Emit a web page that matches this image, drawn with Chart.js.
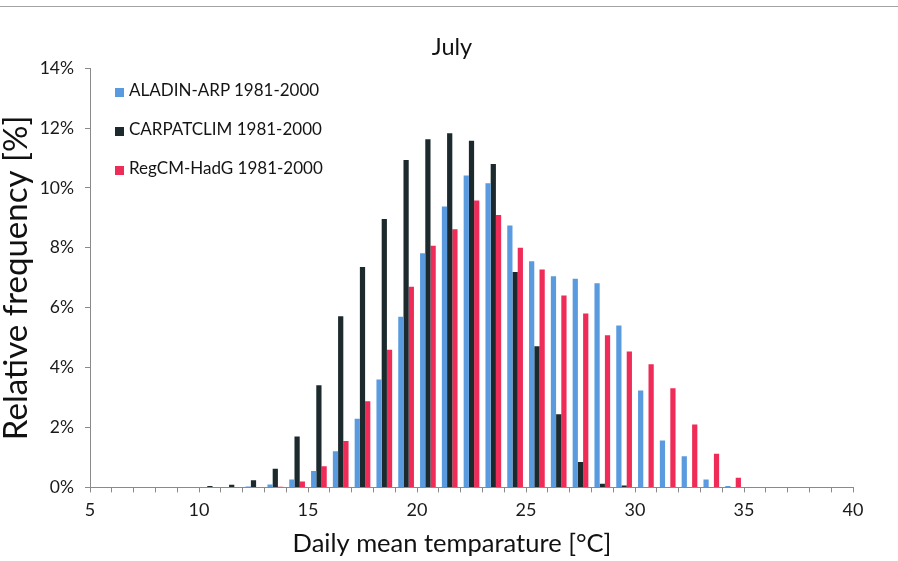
<!DOCTYPE html>
<html>
<head>
<meta charset="utf-8">
<title>July</title>
<script src="https://cdn.jsdelivr.net/npm/chart.js@4.4.0/dist/chart.umd.min.js"></script>
<style>
  body { margin: 0; background: #ffffff; }
  #wrap { position: relative; width: 898px; height: 561px; }
  #topLine { position: absolute; left: 0; top: 6px; width: 898px; border-top: 1px solid #a3a3a3; }
  #legend { position: absolute; left: 115px; top: 0; font-family: Lato, sans-serif; font-size: 17px; color: #141414; }
  .legend-item { position: absolute; left: 0; height: 20px; line-height: 20px; white-space: nowrap; }
  .legend-box { display: inline-block; width: 9px; height: 9px; margin-right: 5px; vertical-align: -1px; }
</style>
</head>
<body>
<div id="wrap">
  <div id="topLine"></div>
  <canvas id="julyChart" width="898" height="561"></canvas>
  <div id="legend"></div>
</div>
<script>
  // data, one value per 1 °C bin (bin start)
  const binStart = [10, 11, 12, 13, 14, 15, 16, 17, 18, 19, 20, 21, 22, 23, 24, 25, 26, 27, 28, 29, 30, 31, 32, 33, 34];

  const aladin = [0, 0, 0.03, 0.1, 0.26, 0.55, 1.21, 2.29, 3.6, 5.7, 7.82, 9.38, 10.42, 10.16, 8.75, 7.55, 7.05, 6.97, 6.82, 5.41, 3.24, 1.57, 1.04, 0.26, 0.05];
  const carpatclim = [0.05, 0.09, 0.24, 0.62, 1.7, 3.41, 5.72, 7.36, 8.96, 10.93, 11.63, 11.83, 11.58, 10.8, 7.19, 4.71, 2.44, 0.85, 0.12, 0.06, 0, 0, 0, 0, 0];
  const regcm = [0, 0, 0, 0.02, 0.2, 0.71, 1.55, 2.88, 4.6, 6.7, 8.07, 8.62, 9.58, 9.1, 8.0, 7.28, 6.41, 5.81, 5.08, 4.54, 4.11, 3.31, 2.1, 1.12, 0.32];

  const seriesNames = ["ALADIN-ARP 1981-2000", "CARPATCLIM 1981-2000", "RegCM-HadG 1981-2000"];
  const seriesColors = ["#5a9be0", "#1c2a2d", "#ef2b57"];
  const legendRowCenters = [90, 129, 168];

  const xMin = 5, xMax = 40;
  const yMax = 14;

  function toPoints(values) {
    return binStart.map((b, i) => ({ x: b + 0.5, y: values[i] }));
  }

  const allSeries = [aladin, carpatclim, regcm];
  const datasets = allSeries.map((values, i) => ({
    label: seriesNames[i],
    data: toPoints(values),
    backgroundColor: seriesColors[i],
    borderWidth: 0,
    categoryPercentage: 0.72,
    barPercentage: 1.0
  }));

  const axisGray = "#8a8a8a";
  const textFont = "Lato, sans-serif";

  const ctx = document.getElementById("julyChart").getContext("2d");
  const chart = new Chart(ctx, {
    type: "bar",
    data: { datasets: datasets },
    options: {
      responsive: false,
      animation: false,
      devicePixelRatio: 1,
      layout: { padding: { left: 6, right: 0, top: 0, bottom: 0 } },
      plugins: {
        legend: { display: false },
        tooltip: { enabled: false },
        title: {
          display: true,
          text: "July",
          color: "#111",
          font: { family: textFont, size: 23.5, weight: "normal", lineHeight: 1.2 },
          padding: { top: 33, bottom: 7 }
        },
        // x axis caption, kept full width like the original layout
        subtitle: {
          display: true,
          position: "bottom",
          text: "Daily mean temparature [°C]",
          color: "#111",
          font: { family: textFont, size: 25.5, lineHeight: 1.2 },
          padding: { top: 0, bottom: 2 }
        }
      },
      scales: {
        x: {
          type: "linear",
          min: xMin,
          max: xMax,
          offset: false,
          grid: { display: true, offset: false, drawOnChartArea: false, drawTicks: true, tickLength: 5, color: axisGray },
          border: { display: true, color: axisGray, width: 1 },
          ticks: {
            stepSize: 1,
            autoSkip: false,
            maxRotation: 0,
            padding: 7,
            color: "#1a1a1a",
            font: { family: textFont, size: 18 },
            callback: function (v) { return v % 5 === 0 ? v : ""; }
          },
          afterFit: function (scale) { scale.height = 41; }
        },
        y: {
          min: 0,
          max: yMax,
          grid: { display: true, drawOnChartArea: false, drawTicks: true, tickLength: 5, color: axisGray },
          border: { display: true, color: axisGray, width: 1 },
          ticks: {
            stepSize: 2,
            padding: 11,
            color: "#1a1a1a",
            font: { family: textFont, size: 17.5 },
            callback: function (v) { return v + "%"; }
          },
          title: {
            display: true,
            text: "Relative frequency [%]",
            color: "#111",
            font: { family: textFont, size: 33, lineHeight: 0.62 },
            padding: { top: 0, bottom: 0 }
          },
          afterFit: function (scale) { scale.width = 84; }
        },
        // empty right margin
        yRight: {
          position: "right",
          display: true,
          grid: { display: false },
          border: { display: false },
          ticks: { display: false },
          afterFit: function (scale) { scale.width = 45; }
        }
      }
    }
  });

  // legend inside the plot, top-left
  const legendDiv = document.getElementById("legend");
  chart.data.datasets.forEach(function (ds, i) {
    const item = document.createElement("div");
    item.className = "legend-item";
    item.style.top = (legendRowCenters[i] - 10) + "px";
    const box = document.createElement("span");
    box.className = "legend-box";
    box.style.background = ds.backgroundColor;
    item.appendChild(box);
    item.appendChild(document.createTextNode(ds.label));
    legendDiv.appendChild(item);
  });
</script>
</body>
</html>
